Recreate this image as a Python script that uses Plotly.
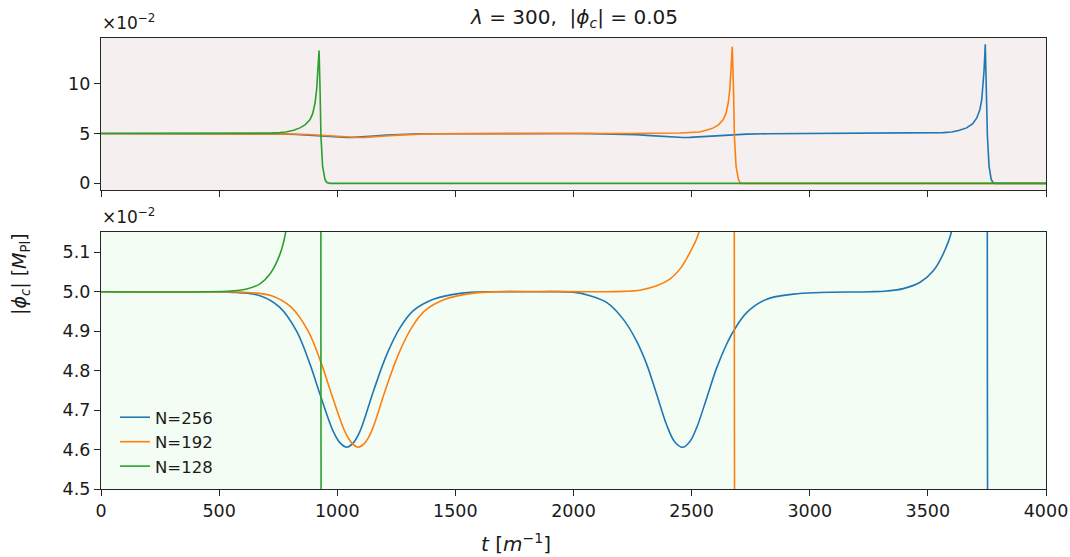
import plotly.graph_objects as go

# values in units of 1e-2 (|phi_c| * 100)
t_256 = [0, 400, 546, 673, 758, 828, 885, 927, 983, 1012, 1040, 1068, 1096, 1153, 1209, 1266, 1322, 1407, 1520, 1650, 1850,
         1998, 2070, 2140, 2211, 2267, 2310, 2352, 2394, 2428, 2462, 2492, 2521, 2564, 2606, 2648, 2677, 2733, 2818, 2930, 3043,
         3255, 3326, 3396, 3467, 3523, 3565, 3601, 3630, 3664, 3690, 3707, 3720, 3728, 3733, 3738, 3743, 3747, 3752,
         3759, 3768, 3776, 3784, 4000]
v_256 = [5.0, 5.0, 4.999, 4.99, 4.96, 4.90, 4.816, 4.74, 4.646, 4.617, 4.606, 4.617, 4.646, 4.748, 4.84, 4.909, 4.952, 4.981, 4.996, 5.0, 5.0,
         4.999, 4.99, 4.973, 4.93, 4.875, 4.816, 4.74, 4.663, 4.62, 4.606, 4.62, 4.655, 4.731, 4.807, 4.867, 4.9, 4.947, 4.981, 4.994, 4.998,
         5.0, 5.002, 5.008, 5.024, 5.053, 5.096, 5.155, 5.3, 5.57, 6.0, 6.57, 7.4, 8.4, 9.6, 11.4, 13.97, 9.73, 4.73,
         1.73, 0.4, 0.08, 0.0, 0.0]

t_192 = [0, 400, 595, 722, 807, 877, 934, 976, 1032, 1061, 1089, 1117, 1145, 1202, 1258, 1315, 1371, 1456, 1569, 1700, 2100,
         2211, 2281, 2352, 2408, 2451, 2493, 2533, 2565, 2592, 2615, 2634, 2645, 2655, 2662, 2667, 2672, 2677, 2681,
         2688, 2698, 2705, 2712, 4000]
v_192 = [5.0, 5.0, 4.999, 4.99, 4.96, 4.90, 4.816, 4.74, 4.646, 4.617, 4.606, 4.617, 4.646, 4.748, 4.84, 4.909, 4.952, 4.981, 4.996, 5.0, 5.0,
         5.001, 5.004, 5.015, 5.032, 5.058, 5.10, 5.155, 5.35, 5.57, 5.9, 6.4, 7.0, 8.07, 9.5, 11.4, 13.73, 9.73, 4.73,
         1.73, 0.4, 0.08, 0.0, 0.0]

t_128 = [0, 450, 550, 617, 673, 715, 758, 783, 815, 842, 865, 885, 896, 906, 913, 917, 923, 927, 931, 938, 948, 956, 969, 4000]
v_128 = [5.0, 5.0, 5.002, 5.007, 5.02, 5.045, 5.096, 5.155, 5.33, 5.57, 5.9, 6.4, 7.0, 8.07, 9.5, 11.4, 13.33, 9.7, 4.73,
         1.73, 0.4, 0.08, 0.0, 0.0]

series = [("N=256", t_256, v_256, "#1f77b4"),
          ("N=192", t_192, v_192, "#ff7f0e"),
          ("N=128", t_128, v_128, "#2ca02c")]

x_ticks = [0, 500, 1000, 1500, 2000, 2500, 3000, 3500, 4000]
top_yticks = [0, 5, 10]
bot_yticks = [4.5, 4.6, 4.7, 4.8, 4.9, 5.0, 5.1]

FONT = "DejaVu Sans"
W, H = 1070, 557
fig = go.Figure()

for name, t, v, c in series:
    fig.add_trace(go.Scatter(x=t, y=v, mode="lines", name=name, legendgroup=name, showlegend=False,
                             line=dict(color=c, width=1.6), xaxis="x", yaxis="y"))
for name, t, v, c in series:
    fig.add_trace(go.Scatter(x=t, y=v, mode="lines", name=name, legendgroup=name, showlegend=True,
                             line=dict(color=c, width=1.6, shape="spline"), xaxis="x2", yaxis="y2"))

xd = [101 / W, 1046 / W]
ax_common = dict(showline=True, mirror=True, linecolor="#262626", linewidth=1.2, ticks="outside",
                 ticklen=6, tickwidth=1.2, tickcolor="#262626", showgrid=False, zeroline=False,
                 automargin=False, tickfont=dict(family=FONT, size=17.5, color="#1a1a1a"))

fig.update_layout(
    width=W, height=H, autosize=False, margin=dict(l=0, r=0, t=0, b=0, autoexpand=False),
    paper_bgcolor="white", plot_bgcolor="rgba(0,0,0,0)",
    font=dict(family=FONT, color="#1a1a1a"),
    xaxis=dict(domain=xd, anchor="y", range=[0, 4000], tickvals=x_ticks, showticklabels=False, matches="x2", **ax_common),
    yaxis=dict(domain=[1 - 190 / H, 1 - 38 / H], anchor="x", range=[-0.67, 14.6], tickvals=top_yticks, **ax_common),
    xaxis2=dict(domain=xd, anchor="y2", range=[0, 4000], tickvals=x_ticks, **ax_common),
    yaxis2=dict(domain=[1 - 489 / H, 1 - 232 / H], anchor="x2", range=[4.5, 5.1515], tickvals=bot_yticks,
                tickformat=".1f", **ax_common),
    legend=dict(x=115 / W, y=1 - 400 / H, xanchor="left", yanchor="top", bgcolor="rgba(0,0,0,0)",
                font=dict(family=FONT, size=16.5, color="#1a1a1a"), itemwidth=30, tracegroupgap=0),
    shapes=[
        dict(type="rect", xref="x domain", yref="y domain", x0=0, x1=1, y0=0, y1=1,
             fillcolor="#f5efef", line=dict(width=0), layer="below"),
        dict(type="rect", xref="x2 domain", yref="y2 domain", x0=0, x1=1, y0=0, y1=1,
             fillcolor="#f4fdf4", line=dict(width=0), layer="below"),
    ],
    annotations=[
        dict(text="<i>λ</i> = 300,  |<i>ϕ</i><sub><i>c</i></sub>| = 0.05", x=573.5 / W, y=1 - 18 / H,
             xref="paper", yref="paper", xanchor="center", yanchor="middle", showarrow=False,
             font=dict(family=FONT, size=20)),
        dict(text="×10<sup>−2</sup>", x=100 / W, y=1 - 35 / H, xref="paper", yref="paper",
             xanchor="left", yanchor="bottom", showarrow=False, font=dict(family=FONT, size=17)),
        dict(text="×10<sup>−2</sup>", x=100 / W, y=1 - 229 / H, xref="paper", yref="paper",
             xanchor="left", yanchor="bottom", showarrow=False, font=dict(family=FONT, size=17)),
        dict(text="<i>t</i> [<i>m</i><sup>−1</sup>]", x=516 / W, y=1 - 543 / H, xref="paper", yref="paper",
             xanchor="center", yanchor="middle", showarrow=False, font=dict(family=FONT, size=20)),
        dict(text="|<i>ϕ</i><sub><i>c</i></sub>| [<i>M</i><sub>Pl</sub>]", x=20 / W, y=1 - 274 / H,
             xref="paper", yref="paper", xanchor="center", yanchor="middle", showarrow=False, textangle=-90,
             font=dict(family=FONT, size=19)),
    ],
)

fig.write_html("out.html", config={"responsive": False, "displayModeBar": False},
               post_script="document.body.style.margin='0';document.body.style.overflow='hidden';")
